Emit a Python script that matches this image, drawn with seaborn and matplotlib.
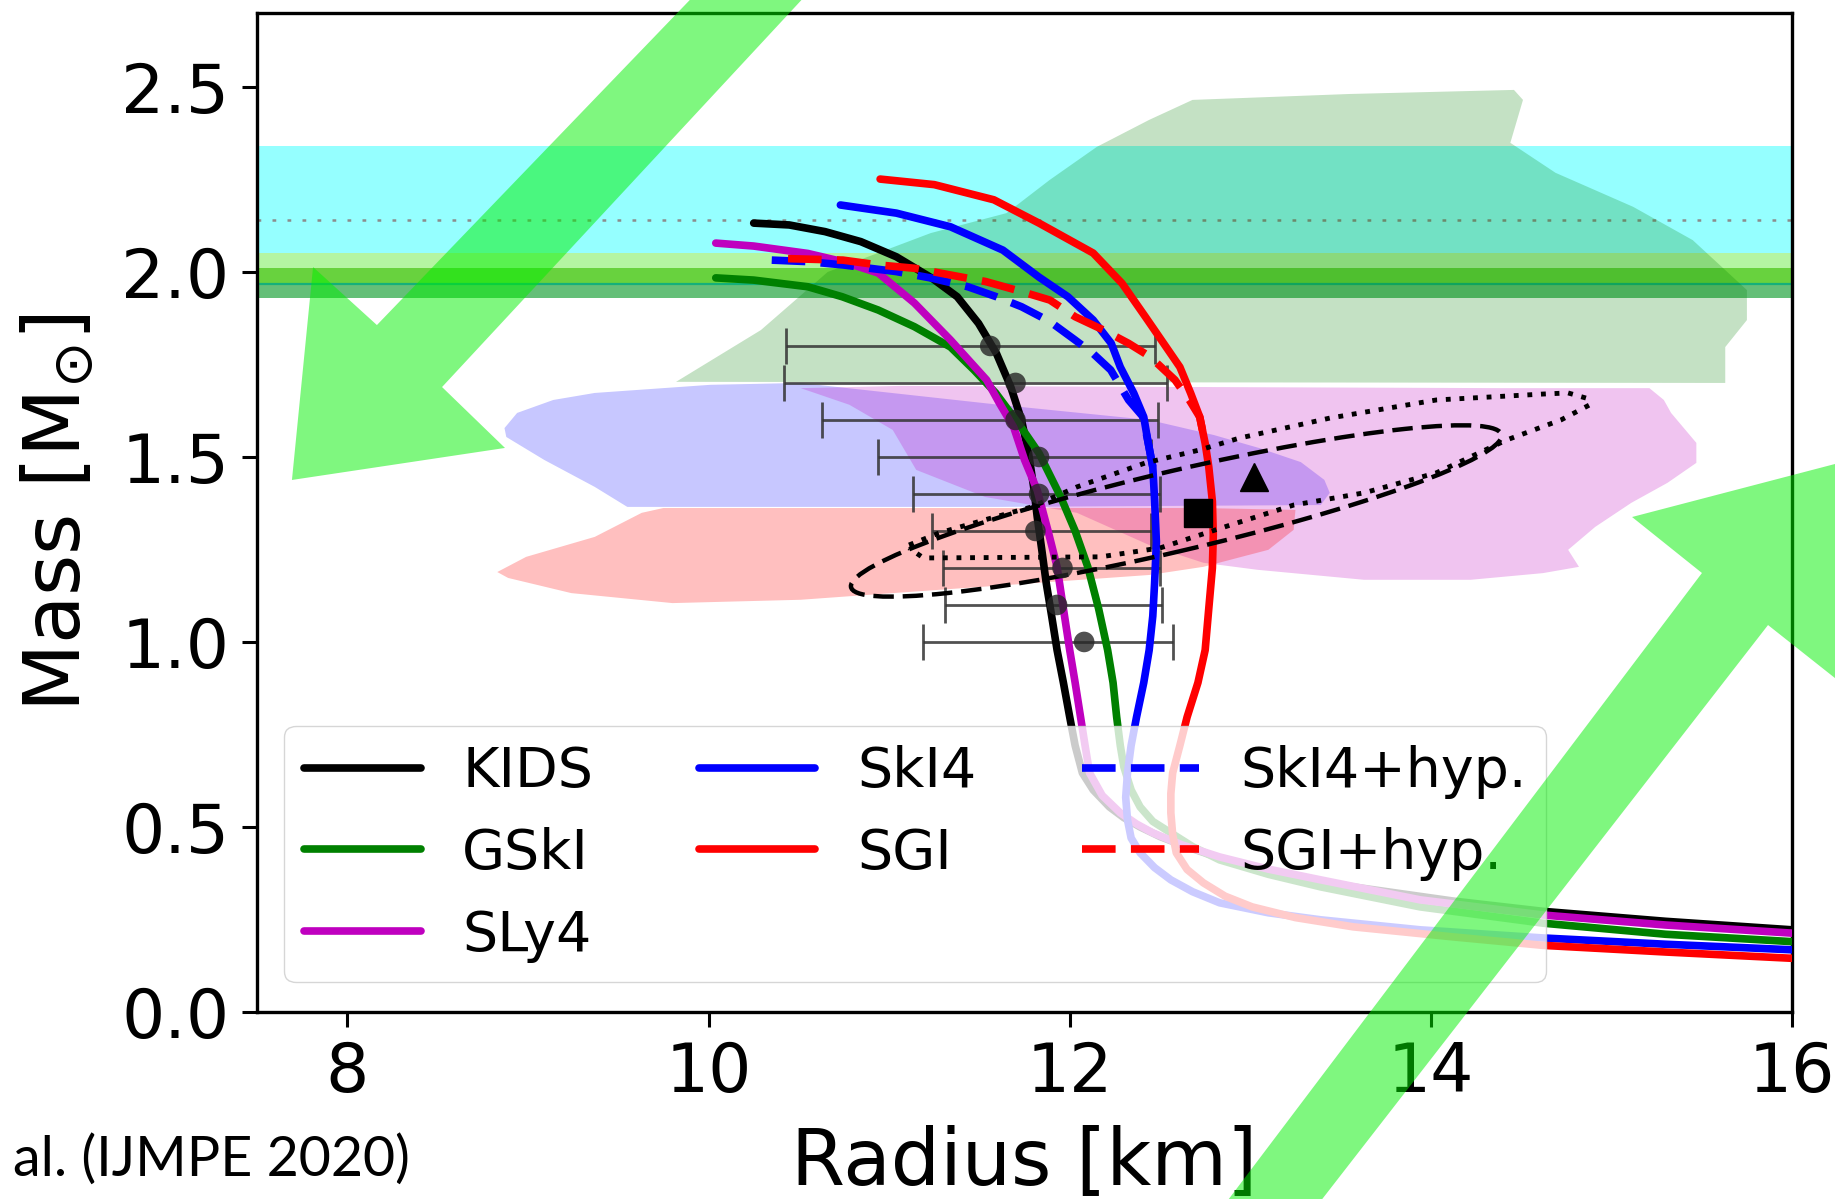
import numpy as np
import pandas as pd
import matplotlib
matplotlib.use("Agg")
import matplotlib.pyplot as plt
import seaborn as sns
from matplotlib.patches import Polygon, Ellipse

# ---------------- data (radius [km], mass [Msun]) ----------------
kids_r = [10.25, 10.447, 10.645, 10.843, 11.04, 11.238, 11.377, 11.495, 11.594, 11.673, 11.733, 11.772, 11.80,
          11.82, 11.845, 11.87, 11.90, 11.93, 11.965, 12.00, 12.03, 12.07, 12.13, 12.22, 12.30, 12.39, 12.50,
          12.65, 12.82, 13.01, 13.27, 13.57, 14.12, 14.62, 15.30, 16.00, 16.60]
kids_m = [2.132, 2.127, 2.109, 2.082, 2.041, 1.983, 1.933, 1.861, 1.780, 1.690, 1.600, 1.510, 1.420,
          1.338, 1.250, 1.159, 1.070, 0.978, 0.890, 0.797, 0.720, 0.646, 0.600, 0.554, 0.525, 0.500, 0.474,
          0.446, 0.418, 0.392, 0.363, 0.338, 0.300, 0.272, 0.245, 0.222, 0.208]

gski_r = [10.04, 10.25, 10.55, 10.74, 10.94, 11.14, 11.34, 11.47, 11.59, 11.73, 11.83, 11.95, 12.03, 12.10,
          12.16, 12.21, 12.24, 12.26, 12.28, 12.30, 12.34, 12.39, 12.46, 12.56, 12.68, 12.83, 13.10, 13.39,
          13.94, 14.62, 15.30, 16.00, 16.60]
gski_m = [1.984, 1.978, 1.960, 1.933, 1.897, 1.852, 1.797, 1.735, 1.673, 1.581, 1.510, 1.392, 1.300, 1.203,
          1.090, 0.978, 0.890, 0.797, 0.720, 0.662, 0.600, 0.554, 0.515, 0.484, 0.447, 0.411, 0.372, 0.338,
          0.284, 0.240, 0.210, 0.190, 0.178]

sly4_r = [10.04, 10.25, 10.55, 10.75, 10.94, 11.14, 11.34, 11.44, 11.54, 11.61, 11.69, 11.75, 11.82, 11.88,
          11.93, 11.965, 12.00, 12.03, 12.06, 12.085, 12.11, 12.18, 12.28, 12.37, 12.46, 12.62, 12.83, 13.10,
          13.39, 13.94, 14.62, 15.30, 16.00, 16.60]
sly4_m = [2.078, 2.070, 2.050, 2.027, 1.997, 1.916, 1.816, 1.762, 1.708, 1.646, 1.580, 1.492, 1.410, 1.300,
          1.203, 1.090, 0.978, 0.890, 0.797, 0.720, 0.646, 0.585, 0.538, 0.508, 0.484, 0.452, 0.419, 0.386,
          0.357, 0.303, 0.262, 0.235, 0.213, 0.200]

ski4_r = [10.73, 11.04, 11.34, 11.63, 11.83, 11.99, 12.13, 12.23, 12.28, 12.355, 12.41, 12.435, 12.46, 12.47,
          12.48, 12.47, 12.46, 12.44, 12.41, 12.37, 12.34, 12.32, 12.31, 12.32, 12.34, 12.39, 12.47, 12.56,
          12.68, 12.83, 13.10, 13.39, 13.94, 14.62, 15.30, 16.00, 16.60]
ski4_m = [2.181, 2.159, 2.122, 2.059, 1.986, 1.933, 1.870, 1.807, 1.743, 1.672, 1.608, 1.537, 1.473, 1.384,
          1.270, 1.159, 1.070, 0.978, 0.890, 0.797, 0.720, 0.646, 0.580, 0.519, 0.470, 0.430, 0.390, 0.357,
          0.325, 0.295, 0.268, 0.249, 0.222, 0.200, 0.183, 0.168, 0.158]

sgi_r = [10.95, 11.25, 11.58, 11.83, 12.13, 12.29, 12.42, 12.52, 12.61, 12.67, 12.72, 12.75, 12.77, 12.79,
         12.795, 12.79, 12.77, 12.75, 12.71, 12.65, 12.61, 12.57, 12.56, 12.56, 12.57, 12.59, 12.65, 12.74,
         12.86, 13.01, 13.25, 13.57, 14.12, 14.62, 15.30, 16.00, 16.60]
sgi_m = [2.251, 2.236, 2.195, 2.132, 2.051, 1.969, 1.878, 1.807, 1.743, 1.672, 1.608, 1.537, 1.473, 1.380,
         1.290, 1.200, 1.090, 0.978, 0.890, 0.797, 0.720, 0.646, 0.590, 0.538, 0.480, 0.430, 0.385, 0.349,
         0.313, 0.284, 0.255, 0.230, 0.203, 0.180, 0.162, 0.145, 0.135]

ski4h_r = [10.35, 10.546, 10.744, 11.04, 11.238, 11.436, 11.594, 11.733, 11.89, 12.03, 12.128, 12.227,
           12.326, 12.405, 12.435, 12.46]
ski4h_m = [2.032, 2.028, 2.019, 2.001, 1.983, 1.960, 1.933, 1.906, 1.866, 1.816, 1.780, 1.735,
           1.654, 1.609, 1.537, 1.473]

sgih_r = [10.44, 10.744, 10.94, 11.14, 11.337, 11.535, 11.733, 11.89, 12.03, 12.187, 12.326, 12.445,
          12.504, 12.583, 12.662, 12.72, 12.75]
sgih_m = [2.036, 2.032, 2.019, 2.010, 1.992, 1.974, 1.947, 1.924, 1.879, 1.843, 1.807, 1.771,
          1.744, 1.708, 1.654, 1.608, 1.537]

# observational points with radius error bars
obs_m  = [1.80, 1.70, 1.60, 1.50, 1.40, 1.30, 1.20, 1.10, 1.00]
obs_r  = [11.56, 11.70, 11.70, 11.83, 11.83, 11.81, 11.96, 11.93, 12.08]
obs_lo = [10.43, 10.42, 10.63, 10.94, 11.13, 11.24, 11.30, 11.31, 11.19]
obs_hi = [12.47, 12.54, 12.49, 12.45, 12.50, 12.45, 12.50, 12.51, 12.57]

# pulsar mass bands (lo, hi)
band_lo = [1.96, 2.01, 1.97, 1.93]
band_hi = [2.34, 2.05, 2.01, 1.967]
band_col = ["#95FFFF", "#B4F5A2", "#68D23E", "#64BF78"]
band_edge = 1.967
j0740_central = 2.14

# shaded constraint regions (radius, mass)
green_r = [9.82, 10.29, 10.66, 11.23, 11.65, 11.89, 12.15, 12.44, 12.68, 13.55, 14.46, 14.51, 14.44, 14.69, 15.12, 15.45, 15.75, 15.75, 15.63, 15.63]
green_m = [1.703, 1.843, 2.000, 2.105, 2.159, 2.249, 2.338, 2.411, 2.465, 2.481, 2.492, 2.465, 2.349, 2.268, 2.176, 2.086, 1.951, 1.870, 1.797, 1.700]

blue_r = [8.87, 8.94, 9.14, 9.37, 10.01, 10.51, 11.61, 12.44, 12.80, 13.05, 13.28, 13.41, 13.44, 13.39, 11.61, 9.55, 9.37, 9.09, 8.88]
blue_m = [1.578, 1.619, 1.654, 1.673, 1.695, 1.700, 1.641, 1.600, 1.559, 1.524, 1.486, 1.438, 1.403, 1.370, 1.365, 1.365, 1.419, 1.492, 1.554]

pink_r = [10.51, 11.06, 12.72, 14.38, 15.21, 15.29, 15.33, 15.47, 15.47, 15.31, 15.11, 14.91, 14.76, 14.82, 14.62, 14.22, 13.63, 13.04, 12.74, 12.44, 12.04, 11.53, 11.15, 11.02, 10.78]
pink_m = [1.686, 1.692, 1.689, 1.686, 1.686, 1.654, 1.619, 1.538, 1.484, 1.430, 1.376, 1.311, 1.249, 1.203, 1.186, 1.168, 1.168, 1.195, 1.214, 1.262, 1.349, 1.392, 1.465, 1.573, 1.641]

red_r = [8.83, 8.99, 9.37, 9.63, 9.75, 11.06, 12.72, 13.25, 13.24, 13.10, 12.74, 12.44, 11.02, 10.51, 9.80, 9.24, 8.89]
red_m = [1.189, 1.230, 1.284, 1.349, 1.362, 1.362, 1.362, 1.357, 1.303, 1.249, 1.203, 1.181, 1.132, 1.114, 1.105, 1.132, 1.173]

# GW contours
ell_center = (12.59, 1.354)
ell_width, ell_height, ell_angle = 3.626, 0.2206, 6.46
dot_r = [11.11, 11.28, 11.53, 11.79, 12.04, 12.42, 12.72, 12.94, 13.44, 14.03, 14.62, 14.76, 14.86, 14.88, 14.72, 14.42, 14.03, 13.63, 13.24, 12.89, 12.50, 12.17, 11.19, 11.11]
dot_m = [1.262, 1.295, 1.330, 1.365, 1.419, 1.484, 1.519, 1.551, 1.605, 1.654, 1.670, 1.673, 1.659, 1.641, 1.600, 1.546, 1.457, 1.403, 1.370, 1.316, 1.254, 1.230, 1.227, 1.254]
square_pt = (12.71, 1.349)
triangle_pt = (13.02, 1.446)

eos_names = ["KIDS", "GSkI", "SLy4", "SkI4", "SGI", "SkI4+hyp.", "SGI+hyp."]

# ---------------- figure ----------------
sns.set_style("ticks")
plt.rcParams["font.family"] = ["DejaVu Sans"]
plt.rcParams["mathtext.fontset"] = "dejavusans"
for k in ("text.color", "axes.labelcolor", "xtick.color", "ytick.color", "axes.edgecolor"):
    plt.rcParams[k] = "black"

fig = plt.figure(figsize=(18.35, 11.99), dpi=100)
ax = fig.add_axes([0.1401, 0.156, 0.8365, 0.8332])
ax.set_xlim(7.5, 16)
ax.set_ylim(0, 2.7)

for lo, hi, col in zip(band_lo, band_hi, band_col):
    ax.axhspan(lo, hi, color=col, lw=0, zorder=0.5)
ax.axhline(band_edge, color="#14B07A", lw=1.6, zorder=0.55)
ax.axhline(j0740_central, color="#8c8c8c", lw=1.8, dashes=(1.5, 4.5), zorder=0.6)

ax.fill(green_r, green_m, color="green", alpha=0.23, lw=0, zorder=1)
ax.fill(blue_r, blue_m, color="blue", alpha=0.22, lw=0, zorder=1.1)
ax.fill(pink_r, pink_m, color="m", alpha=0.23, lw=0, zorder=1.2)
ax.fill(red_r, red_m, color="red", alpha=0.25, lw=0, zorder=1.3)

ax.errorbar(obs_r, obs_m,
            xerr=[np.array(obs_r) - np.array(obs_lo), np.array(obs_hi) - np.array(obs_r)],
            fmt="none", ecolor="#333333", elinewidth=2.0, capsize=13, capthick=2.0,
            alpha=0.85, zorder=3)

LW = 5.5
curves = [(kids_r, kids_m, "k", None), (gski_r, gski_m, "g", None), (sly4_r, sly4_m, "m", None),
          (ski4_r, ski4_m, "b", None), (sgi_r, sgi_m, "r", None),
          (ski4h_r, ski4h_m, "b", (4.4, 2.0)), (sgih_r, sgih_m, "r", (4.4, 2.0))]
handles = []
for (r, m, c, d), name in zip(curves, eos_names):
    sns.lineplot(x=r, y=m, sort=False, estimator=None, color=c, linewidth=LW,
                 label=name, ax=ax, zorder=4)
    ln = ax.get_lines()[-1]
    ln.set_linewidth(LW)
    ln.set_solid_joinstyle("round")
    ln.set_dash_joinstyle("round")
    if d is not None:
        ln.set_dashes(d)
    handles.append(ln)

sns.scatterplot(x=obs_r, y=obs_m, color="#262626", s=220, alpha=0.8,
                edgecolor="none", zorder=6, ax=ax, legend=False)

ax.add_patch(Ellipse(ell_center, ell_width, ell_height, angle=ell_angle, fill=False,
                     ec="k", lw=3.2, linestyle=(0, (4.6, 2.0)), zorder=5))
ax.plot(dot_r, dot_m, color="k", lw=3.5, dashes=(1, 1.8), zorder=5)
ax.plot([square_pt[0]], [square_pt[1]], "s", ms=20, color="k", zorder=6)
ax.plot([triangle_pt[0]], [triangle_pt[1]], "^", ms=20, color="k", zorder=6)

leg = ax.legend(handles, eos_names, ncol=3, loc="lower left", bbox_to_anchor=(0.0178, 0.030),
                borderaxespad=0, fontsize=40, handlelength=2.1, handletextpad=0.75,
                columnspacing=1.9, labelspacing=0.5, framealpha=0.8, borderpad=0.35,
                fancybox=True, edgecolor="#cccccc")
leg.set_zorder(7)

ax.set_xticks([8, 10, 12, 14, 16])
ax.set_yticks([0.0, 0.5, 1.0, 1.5, 2.0, 2.5])
ax.yaxis.set_major_formatter("{x:.1f}")
ax.tick_params(labelsize=49, length=11, width=2.2, pad=9, color="k", labelcolor="k")
for s in ax.spines.values():
    s.set_linewidth(2.4)
    s.set_color("k")
    s.set_visible(True)

ax.set_xlabel("Radius [km]", fontsize=56)
ax.xaxis.set_label_coords(0.5, -0.112)
ax.set_ylabel(r"Mass [M$_{\odot}$]", fontsize=57)
ax.yaxis.set_label_coords(-0.104, 0.5)

fig.text(0.007, 0.033, "al. (IJMPE 2020)", fontsize=40, family=["Lato", "DejaVu Sans"],
         va="center", ha="left", color="k")

# green overlay arrows (figure fraction)
arrow1 = [(0.3864, 1.0167), (0.2054, 0.7289), (0.1706, 0.7773), (0.1591, 0.5997),
          (0.2752, 0.6264), (0.2409, 0.6772), (0.4469, 1.0167)]
arrow2 = [(0.6610, -0.0175), (0.9275, 0.5221), (0.8894, 0.5688), (1.0082, 0.6163),
          (1.0027, 0.4312), (0.9635, 0.4787), (0.7117, -0.0175)]
for verts in (arrow1, arrow2):
    fig.add_artist(Polygon(verts, closed=True, transform=fig.transFigure,
                           fc=(0, 0.94, 0), alpha=0.5, lw=0, zorder=10))

fig.savefig("out.png", dpi=100)
